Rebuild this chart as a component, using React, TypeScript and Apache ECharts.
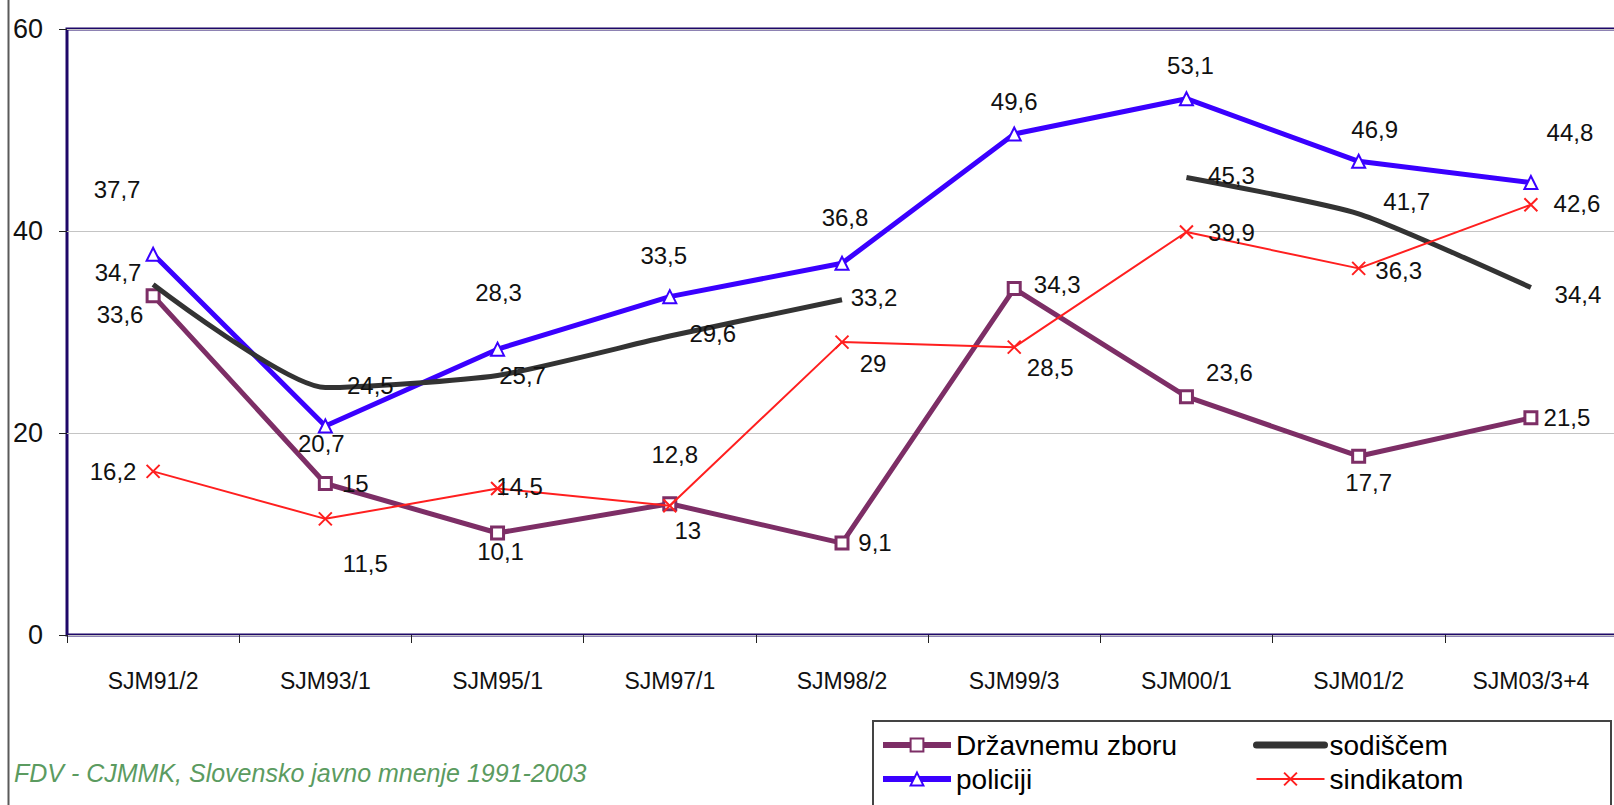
import { useEffect, useRef } from 'react';
import * as echarts from 'echarts';

const categories = ['SJM91/2', 'SJM93/1', 'SJM95/1', 'SJM97/1', 'SJM98/2', 'SJM99/3', 'SJM00/1', 'SJM01/2', 'SJM03/3+4'];
const yMin = 0;
const yMax = 60;
const yInterval = 20;

const seriesNames = ['Državnemu zboru', 'policiji', 'sodiščem', 'sindikatom'];
const drzavnemuZboru = [33.6, 15, 10.1, 13, 9.1, 34.3, 23.6, 17.7, 21.5];
const policiji = [37.7, 20.7, 28.3, 33.5, 36.8, 49.6, 53.1, 46.9, 44.8];
const sodiscem: (number | null)[] = [34.7, 24.5, 25.7, 29.6, 33.2, null, 45.3, 41.7, 34.4];
const sindikatom = [16.2, 11.5, 14.5, 12.8, 29, 28.5, 39.9, 36.3, 42.6];

const sourceNote = 'FDV - CJMMK, Slovensko javno mnenje 1991-2003';

// label placement (offset of each value label from its point), as in the original
const offDrz = [[-33, 19], [30, 0], [3, 19], [18, 27], [33, -1], [43, -4], [43, -24], [10, 26], [36, 0]];
const offPol = [[-36, -65], [-4, 18], [1, -57], [-6, -41], [3, -46], [0, -33], [4, -33], [16, -32], [39, -50]];
const offSod = [[-35, -12], [45, -2], [25, 0], [43, -3], [32, -2], [0, 0], [45, -2], [48, -12], [47, 7]];
const offSin = [[-40, 0], [40, 45], [22, -2], [5, -51], [31, 21], [36, 20], [45, 0], [40, 2], [46, -1]];

const FONT = "'Liberation Sans', Arial, sans-serif";

function mkData(values: (number | null)[], offsets: number[][]) {
  return values.map((v, i) => (v === null ? '-' : { value: v, label: { offset: offsets[i] } }));
}

const labelBase = {
  show: true,
  position: 'inside',
  fontSize: 24,
  color: '#111',
  fontFamily: FONT,
  formatter: (p: any) => String(p.value).replace('.', ','),
};

export default function App() {
  const ref = useRef<HTMLDivElement>(null);
  useEffect(() => {
    if (!ref.current) return;
    const chart = echarts.init(ref.current, null, { renderer: 'svg' });
    const purple = '#7d2e66';
    const blue = '#3a00ff';
    const dark = '#333333';
    const red = '#ff1f1f';
    const navy = '#1e0868';
    const legendText = { fontSize: 28, color: '#000', fontFamily: FONT, lineHeight: 34 };
    const option: any = {
      animation: false,
      backgroundColor: '#ffffff',
      textStyle: { fontFamily: FONT },
      grid: {
        left: 67,
        top: 29,
        width: 1550,
        height: 606,
        show: true,
        borderColor: navy,
        borderWidth: 3,
        backgroundColor: 'transparent',
        outerBoundsMode: 'none',
        containLabel: false,
      },
      xAxis: {
        type: 'category',
        data: categories,
        boundaryGap: true,
        axisLine: { show: false },
        axisTick: { show: true, length: 8, lineStyle: { color: '#222', width: 1 }, alignWithLabel: false, interval: 0 },
        axisLabel: { fontSize: 23, color: '#111', margin: 34, fontFamily: FONT, interval: 0 },
        splitLine: { show: false },
      },
      yAxis: {
        type: 'value',
        min: yMin,
        max: yMax,
        interval: yInterval,
        axisLine: { show: false },
        axisTick: { show: true, length: 8, lineStyle: { color: '#222', width: 1 } },
        axisLabel: { fontSize: 27, color: '#111', margin: 24, fontFamily: FONT },
        splitLine: { show: true, lineStyle: { color: '#c4c4c4', width: 1 } },
      },
      legend: [
        {
          data: [
            { name: seriesNames[0], lineStyle: { width: 6 } },
            { name: seriesNames[1], lineStyle: { width: 6 } },
          ],
          orient: 'vertical',
          left: 880,
          top: 728,
          padding: 0,
          itemGap: 0,
          itemWidth: 68,
          itemHeight: 16,
          selectedMode: false,
          textStyle: legendText,
        },
        {
          data: [
            { name: seriesNames[2], lineStyle: { width: 7, cap: 'round' } },
            { name: seriesNames[3], lineStyle: { width: 2 } },
          ],
          orient: 'vertical',
          left: 1253,
          top: 728,
          padding: 0,
          itemGap: 0,
          itemWidth: 68,
          itemHeight: 16,
          selectedMode: false,
          textStyle: legendText,
        },
      ],
      series: [
        {
          type: 'line',
          name: seriesNames[0],
          data: mkData(drzavnemuZboru, offDrz),
          symbol: 'rect',
          symbolSize: 12,
          lineStyle: { color: purple, width: 5 },
          itemStyle: { color: '#ffffff', borderColor: purple, borderWidth: 3 },
          label: labelBase,
          z: 2,
        },
        {
          type: 'line',
          name: seriesNames[1],
          data: mkData(policiji, offPol),
          symbol: 'triangle',
          symbolSize: 13,
          lineStyle: { color: blue, width: 5 },
          itemStyle: { color: '#ffffff', borderColor: blue, borderWidth: 2 },
          label: labelBase,
          z: 3,
        },
        {
          type: 'line',
          name: seriesNames[2],
          data: mkData(sodiscem, offSod),
          symbol: 'circle',
          symbolSize: 1,
          smooth: 0.2,
          connectNulls: false,
          lineStyle: { color: dark, width: 5 },
          itemStyle: { color: 'rgba(0,0,0,0)', borderWidth: 0 },
          label: labelBase,
          z: 4,
        },
        {
          type: 'line',
          name: seriesNames[3],
          data: mkData(sindikatom, offSin),
          symbol: 'path://M0,0L10,10M10,0L0,10',
          symbolSize: 13,
          lineStyle: { color: red, width: 2 },
          itemStyle: { color: red, borderColor: red, borderWidth: 2 },
          label: labelBase,
          z: 5,
        },
      ],
      graphic: [
        {
          type: 'line',
          shape: { x1: 8.5, y1: 0, x2: 8.5, y2: 805 },
          style: { stroke: '#5a5a5a', lineWidth: 2 },
          silent: true,
        },
        {
          type: 'rect',
          shape: { x: 873, y: 721, width: 738, height: 120 },
          style: { stroke: '#444444', lineWidth: 2, fill: 'rgba(0,0,0,0)' },
          silent: true,
          z: -1,
        },
        {
          type: 'text',
          x: 14,
          y: 773,
          style: {
            text: sourceNote,
            fill: '#5b9b60',
            font: `italic 25px ${FONT}`,
            verticalAlign: 'middle',
            textAlign: 'left',
          },
          silent: true,
        },
      ],
    };
    chart.setOption(option);
    return () => chart.dispose();
  }, []);
  return <div ref={ref} style={{ position: 'fixed', left: 0, top: 0, width: 1614, height: 805 }} />;
}
